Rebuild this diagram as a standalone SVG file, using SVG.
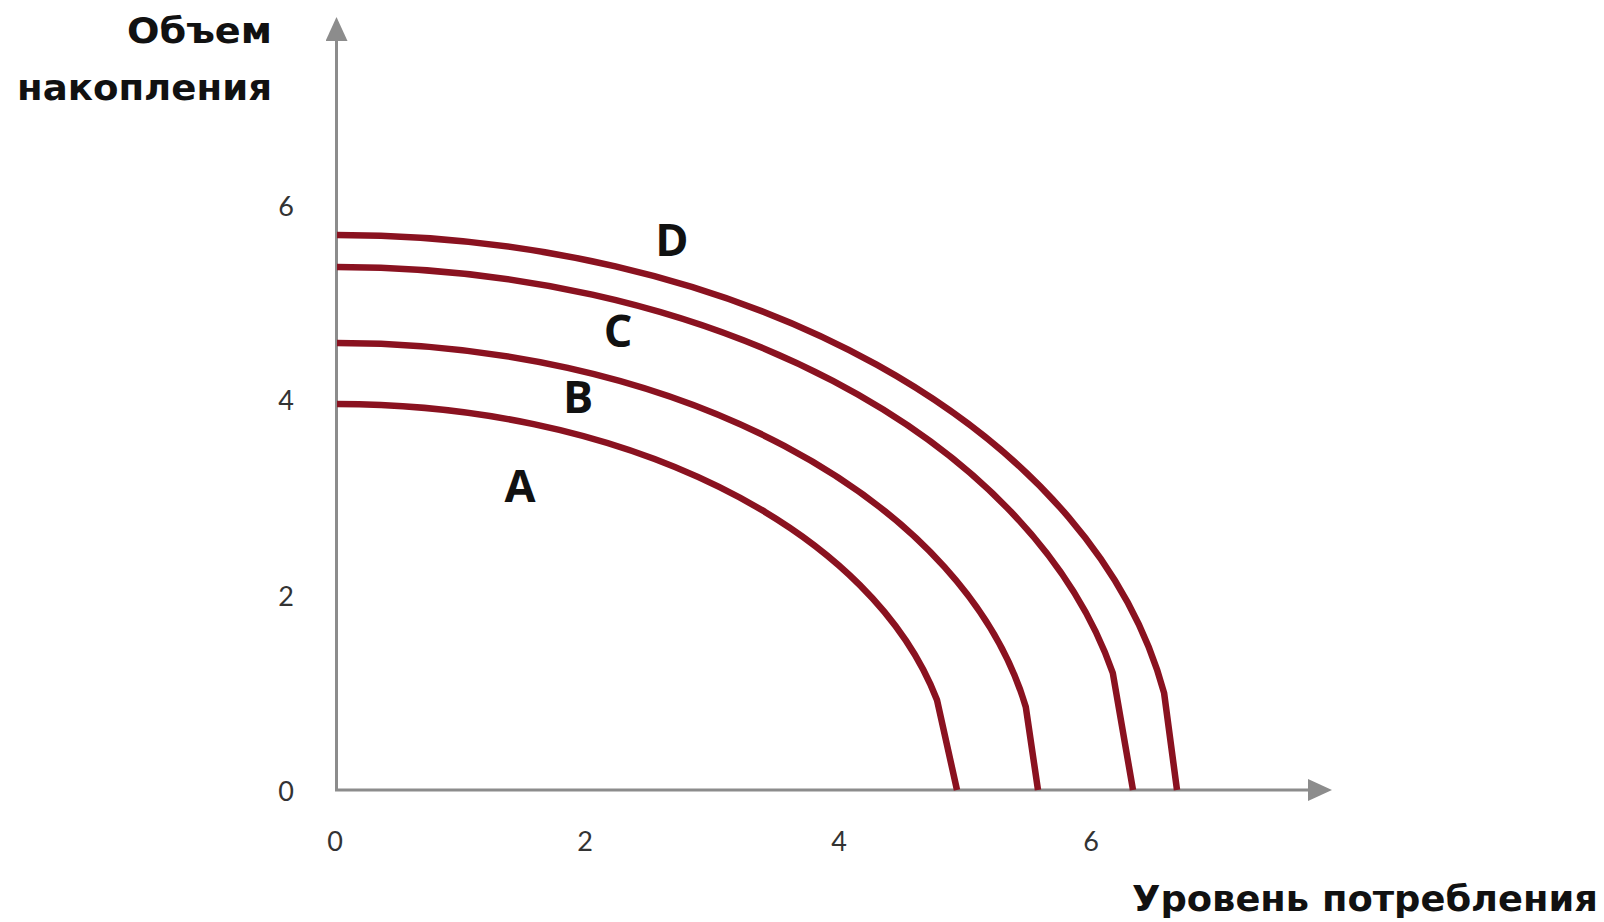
<svg xmlns="http://www.w3.org/2000/svg" width="1604" height="922" viewBox="0 0 1604 922">
  <style>
    .axis { stroke: #8c8c8c; stroke-width: 3; fill: none; }
    .curve { stroke: #8a1220; stroke-width: 6.5; fill: none; stroke-linejoin: round; }
    .tick { font-family: Lato, "Open Sans", "Liberation Sans", sans-serif; font-size: 27px; fill: #333333; text-anchor: middle; }
    .title { font-family: "DejaVu Sans", "Liberation Sans", sans-serif; font-weight: bold; font-size: 35px; fill: #111; }
    .lbl { font-family: "Open Sans", "Liberation Sans", sans-serif; font-weight: bold; font-size: 45px; fill: #111; text-anchor: middle; }
  </style>
  <defs>
    <marker id="arrow" markerUnits="userSpaceOnUse" markerWidth="24" markerHeight="22" refX="0" refY="11" orient="auto">
      <path d="M0,0 L24,11 L0,22 z" fill="#8c8c8c"/>
    </marker>
  </defs>
  <rect width="1604" height="922" fill="#ffffff"/>

  <g id="axes">
    <line class="axis" x1="336.5" y1="790" x2="336.5" y2="41" marker-end="url(#arrow)"/>
    <line class="axis" x1="335" y1="790" x2="1308" y2="790" marker-end="url(#arrow)"/>
  </g>

  <g id="y-ticks">
    <text class="tick" x="286" y="216">6</text>
    <text class="tick" x="286" y="410">4</text>
    <text class="tick" x="286" y="606">2</text>
    <text class="tick" x="286" y="801">0</text>
  </g>
  <g id="x-ticks">
    <text class="tick" x="335" y="851">0</text>
    <text class="tick" x="585" y="851">2</text>
    <text class="tick" x="839" y="851">4</text>
    <text class="tick" x="1091" y="851">6</text>
  </g>

  <g id="y-title">
    <text class="title" x="272" y="43" text-anchor="end" textLength="145" lengthAdjust="spacingAndGlyphs">Объем</text>
    <text class="title" x="272" y="100" text-anchor="end" textLength="255" lengthAdjust="spacingAndGlyphs">накопления</text>
  </g>
  <g id="x-title">
    <text class="title" x="1132" y="911" textLength="466" lengthAdjust="spacingAndGlyphs">Уровень потребления</text>
  </g>

  <g id="curves">
    <g id="curve-A">
      <path class="curve" d="M337,404 A617,386 0 0 1 937,700 L957,790"/>
      <text class="lbl" x="520" y="502">A</text>
    </g>
    <g id="curve-B">
      <path class="curve" d="M337,343 A701,447 0 0 1 1025.8,707 L1038,790"/>
      <text class="lbl" x="578" y="413">B</text>
    </g>
    <g id="curve-C">
      <path class="curve" d="M337,267 A796,523 0 0 1 1112.8,673 L1133,790"/>
      <text class="lbl" x="618" y="347">C</text>
    </g>
    <g id="curve-D">
      <path class="curve" d="M337,235 A840,555 0 0 1 1164.1,693 L1177,790"/>
      <text class="lbl" x="672" y="256">D</text>
    </g>
  </g>
</svg>
